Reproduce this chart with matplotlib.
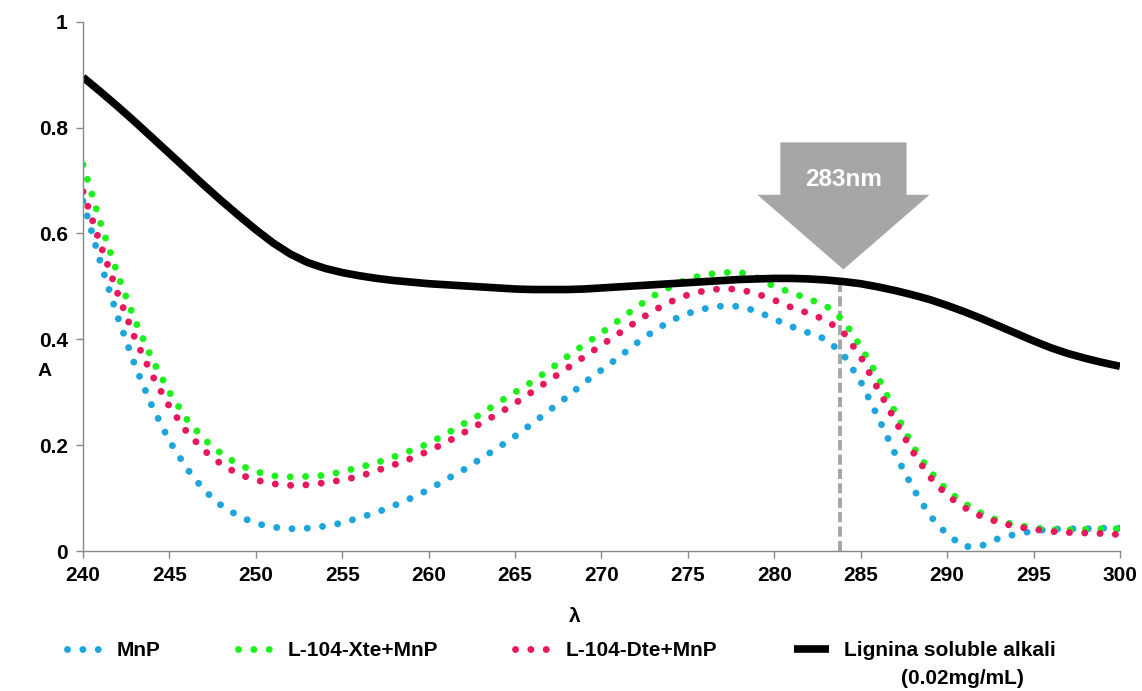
import matplotlib.pyplot as plt
import numpy as np
from matplotlib.patches import Polygon

plt.rcParams['font.family'] = ['Liberation Sans', 'DejaVu Sans']
plt.rcParams['font.weight'] = 'bold'

wavelength = np.arange(240, 301)

mnp = [0.661, 0.546, 0.443, 0.351, 0.273, 0.208, 0.156, 0.115, 0.086, 0.066,
       0.052, 0.045, 0.042, 0.043, 0.047, 0.053, 0.063, 0.073, 0.086, 0.100,
       0.116, 0.135, 0.153, 0.174, 0.195, 0.217, 0.241, 0.266, 0.291, 0.318,
       0.342, 0.366, 0.392, 0.415, 0.435, 0.449, 0.458, 0.463, 0.462, 0.453,
       0.438, 0.424, 0.412, 0.400, 0.371, 0.320, 0.253, 0.183, 0.120, 0.067,
       0.031, 0.008, 0.010, 0.024, 0.032, 0.038, 0.041, 0.042, 0.042, 0.043,
       0.043]
xte_mnp = [0.730, 0.621, 0.523, 0.436, 0.362, 0.300, 0.249, 0.211, 0.184, 0.163,
           0.150, 0.142, 0.140, 0.141, 0.143, 0.150, 0.158, 0.167, 0.178, 0.190,
           0.203, 0.221, 0.240, 0.258, 0.280, 0.300, 0.320, 0.343, 0.367, 0.390,
           0.412, 0.436, 0.460, 0.482, 0.499, 0.514, 0.522, 0.526, 0.527, 0.516,
           0.500, 0.488, 0.476, 0.463, 0.436, 0.386, 0.329, 0.262, 0.199, 0.151,
           0.114, 0.090, 0.071, 0.057, 0.049, 0.044, 0.040, 0.040, 0.041, 0.042,
           0.042]
dte_mnp = [0.679, 0.580, 0.487, 0.402, 0.332, 0.273, 0.225, 0.190, 0.164, 0.145,
           0.134, 0.127, 0.124, 0.125, 0.129, 0.134, 0.141, 0.152, 0.163, 0.175,
           0.189, 0.205, 0.223, 0.241, 0.259, 0.279, 0.301, 0.323, 0.345, 0.367,
           0.389, 0.411, 0.433, 0.454, 0.471, 0.484, 0.492, 0.496, 0.494, 0.486,
           0.474, 0.460, 0.449, 0.436, 0.413, 0.367, 0.306, 0.246, 0.188, 0.140,
           0.105, 0.082, 0.065, 0.054, 0.046, 0.041, 0.037, 0.035, 0.034, 0.033,
           0.031]
lignin = [0.895, 0.868, 0.840, 0.811, 0.781, 0.751, 0.721, 0.691, 0.662, 0.634,
          0.607, 0.582, 0.561, 0.545, 0.534, 0.526, 0.520, 0.515, 0.511, 0.508,
          0.505, 0.503, 0.501, 0.499, 0.497, 0.495, 0.494, 0.494, 0.494, 0.495,
          0.497, 0.499, 0.501, 0.503, 0.505, 0.507, 0.509, 0.511, 0.513, 0.514,
          0.515, 0.515, 0.514, 0.512, 0.509, 0.505, 0.499, 0.492, 0.484, 0.475,
          0.464, 0.452, 0.439, 0.425, 0.411, 0.397, 0.384, 0.373, 0.364, 0.356,
          0.349]

marker_nm = 283.8
marker_top = 0.511

fig = plt.figure(figsize=(11.42, 6.91), dpi=100)
ax = fig.add_axes([0.0727, 0.2026, 0.908, 0.7660])

dots = (0, (0.01, 2.2))
ax.plot(wavelength, mnp, color='#1FA5DE', lw=5, linestyle=dots,
        dash_capstyle='round', label='MnP')
ax.plot(wavelength, xte_mnp, color='#1EF01E', lw=5, linestyle=dots,
        dash_capstyle='round', label='L-104-Xte+MnP')
ax.plot(wavelength, dte_mnp, color='#E6195C', lw=5, linestyle=dots,
        dash_capstyle='round', label='L-104-Dte+MnP')
ax.plot(wavelength, lignin, color='black', lw=5.5, solid_capstyle='butt',
        label='Lignina soluble alkali')

# marker line + arrow
ax.plot([marker_nm, marker_nm], [0, marker_top], color='#A6A6A6', lw=2.8,
        linestyle=(0, (2.6, 1.1)), zorder=1)
cx = marker_nm + 0.2
arrow = Polygon([(cx - 3.65, 0.772), (cx + 3.65, 0.772), (cx + 3.65, 0.673),
                 (cx + 4.98, 0.673), (cx, 0.532), (cx - 4.98, 0.673),
                 (cx - 3.65, 0.673)], closed=True, facecolor='#A6A6A6',
                edgecolor='none', zorder=3)
ax.add_patch(arrow)
ax.text(cx, 0.702, '283nm', color='white', fontsize=17.5, ha='center',
        va='center', zorder=4)

ax.set_xlim(240, 300)
ax.set_ylim(0, 1)
ax.set_xticks(np.arange(240, 301, 5))
ax.set_yticks([0, 0.2, 0.4, 0.6, 0.8, 1.0])
ax.set_yticklabels(['0', '0.2', '0.4', '0.6', '0.8', '1'])
ax.tick_params(axis='both', labelsize=15, color='#898989', length=5,
               width=1, direction='out')
ax.tick_params(axis='x', pad=6)
ax.tick_params(axis='y', pad=6)
for s in ['top', 'right']:
    ax.spines[s].set_visible(False)
for s in ['left', 'bottom']:
    ax.spines[s].set_color('#898989')
    ax.spines[s].set_linewidth(1)

ax.set_ylabel('A', rotation=0, fontsize=14, fontweight='bold', va='center')
ax.yaxis.set_label_coords(-0.037, 0.34)
ax.set_xlabel('λ', fontsize=15, fontweight='bold')
ax.xaxis.set_label_coords(0.474, -0.106)

leg = fig.legend(loc='center left', bbox_to_anchor=(0.0584, 0.0579), ncol=4,
                 frameon=False, handlelength=1.7, columnspacing=3.7,
                 handletextpad=0.7, borderpad=0, borderaxespad=0,
                 prop={'weight': 'bold', 'size': 15})
fig.text(0.843, 0.0188, '(0.02mg/mL)', ha='center', va='center', fontsize=15,
         fontweight='bold')

fig.savefig('out.png', dpi=100)
